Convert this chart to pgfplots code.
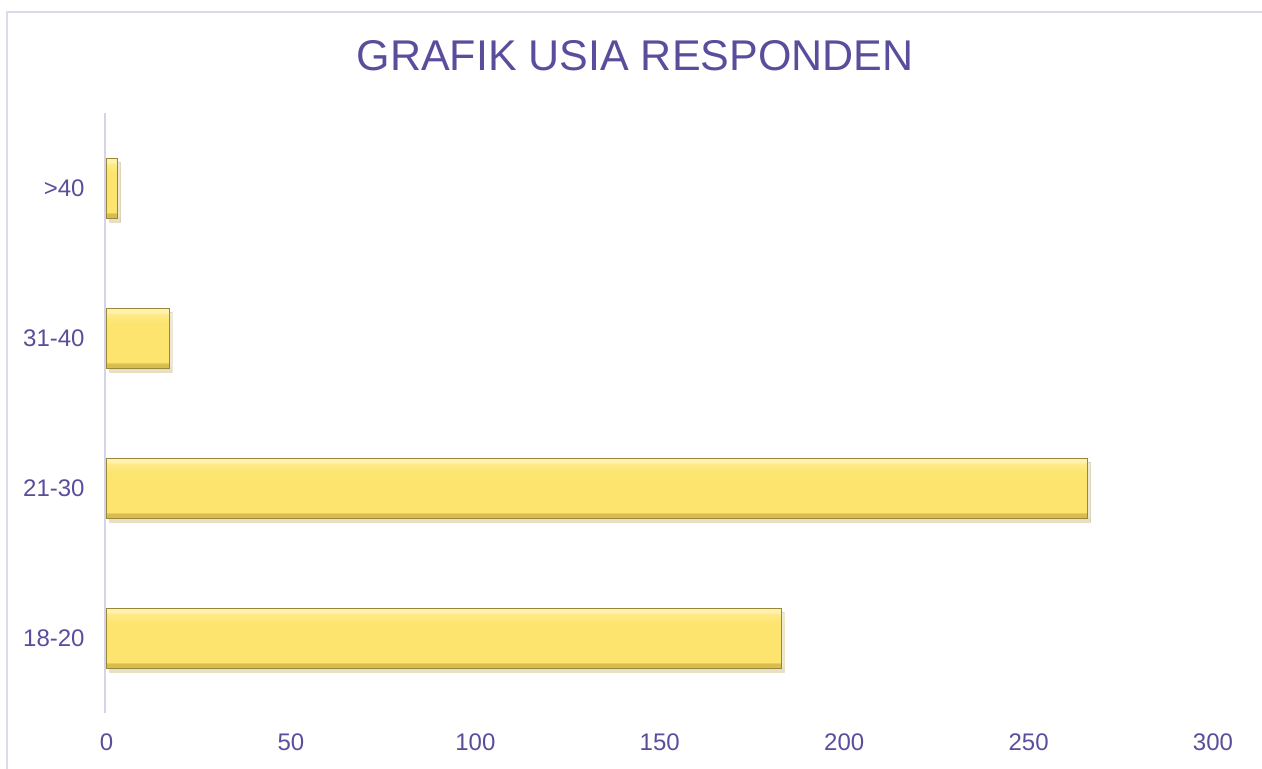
\documentclass[border=0pt]{standalone}
\usepackage{fontspec}
\setmainfont{Liberation Sans}
\usepackage{pgfplots}
\pgfplotsset{compat=1.18}
\usetikzlibrary{shadows}
\definecolor{txt}{HTML}{5A4E9C}
\definecolor{framec}{HTML}{DCDAEE}
\definecolor{axln}{HTML}{D5D3E8}
\definecolor{barmain}{HTML}{FDE46E}
\definecolor{barmid}{HTML}{FEEA88}
\definecolor{barlt}{HTML}{FFF2AE}
\definecolor{bardk}{HTML}{D9BC4E}
\definecolor{baredge}{HTML}{9A8838}
\pgfdeclareverticalshading{bevel}{100bp}{color(0bp)=(bardk); color(25bp)=(bardk); color(28.5bp)=(bardk); color(30bp)=(barmain); color(62bp)=(barmain); color(70bp)=(barmid); color(71.5bp)=(barlt); color(75bp)=(barlt); color(100bp)=(barlt)}
\pgfplotsset{barsty/.style={xbar, bar width=30pt, bar shift=0pt, shading=bevel, draw=baredge, line width=0.5pt,
  drop shadow={opacity=0.18, shadow xshift=1.5pt, shadow yshift=-2pt}}}
\begin{document}
\begin{tikzpicture}[x=1pt,y=1pt]
\useasboundingbox (0,0) rectangle (631,384);
\draw[framec, line width=1pt] (3.25,-2) -- (3.25,378) -- (640,378);
\node[text=txt, font=\fontsize{21.5}{26}\selectfont] at (317.5,356) {GRAFIK USIA RESPONDEN};
\begin{axis}[at={(53.25pt,27.5pt)}, anchor=south west, scale only axis,
  width=553.25pt, height=300pt,
  xmin=0, xmax=300, ymin=-0.5, ymax=3.5,
  axis line style={draw=none},
  xtick={0,50,...,300}, ytick={0,1,2,3},
  yticklabels={18-20,21-30,31-40,>40},
  major tick length=0pt,
  tick label style={font=\fontsize{12}{14}\selectfont, text=txt, inner sep=0pt},
  xticklabel style={anchor=center, yshift=-14.5pt},
  yticklabel style={anchor=east, xshift=-10.75pt},
  /pgf/number format/assume math mode=true,
  clip=false]
\addplot[barsty] coordinates {(183,0)};
\addplot[barsty] coordinates {(266,1)};
\addplot[barsty] coordinates {(17,2)};
\addplot[barsty] coordinates {(3,3)};
\draw[axln, line width=1pt] ([xshift=-0.6pt]axis cs:0,-0.5) -- ([xshift=-0.6pt]axis cs:0,3.5);
\end{axis}
\end{tikzpicture}
\end{document}
